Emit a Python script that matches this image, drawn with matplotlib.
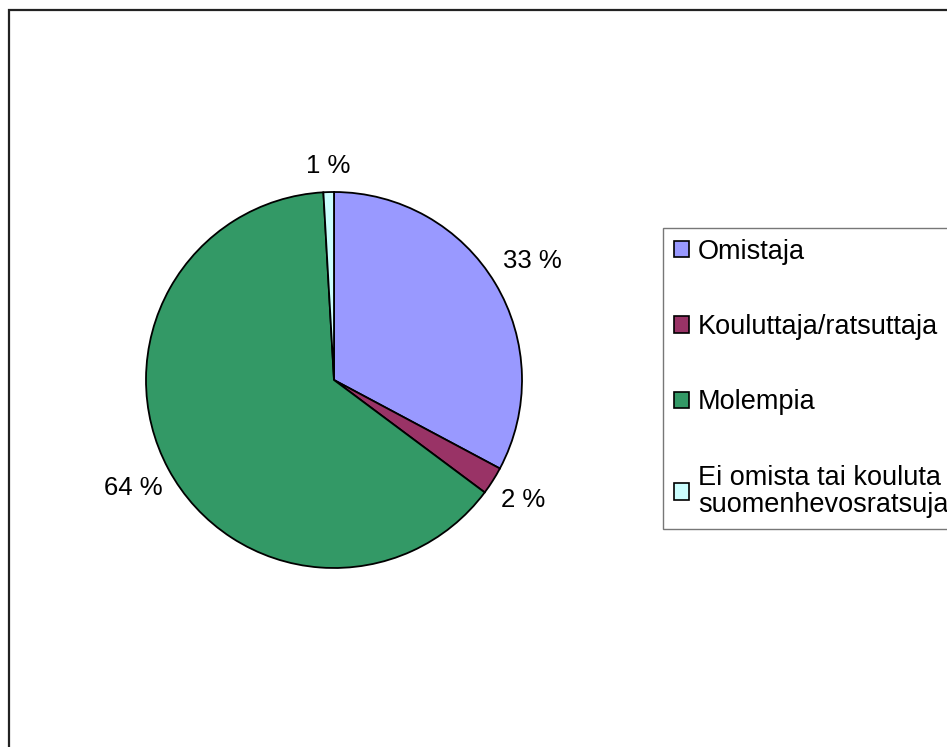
import numpy as np
import matplotlib
matplotlib.use("Agg")
import matplotlib.pyplot as plt
from matplotlib.patches import Patch, Rectangle

plt.rcParams["font.family"] = ["Liberation Sans", "DejaVu Sans"]

# data
categories = ["Omistaja", "Kouluttaja/ratsuttaja", "Molempia",
              "Ei omista tai kouluta\nsuomenhevosratsuja"]
shares = [32.8, 2.4, 63.9, 0.9]
colors = ["#9999FF", "#993366", "#339966", "#CCFFFF"]

W, H = 947, 747
CX, CY, R = 334, H - 380, 188
label_dist = [1.23, 1.19, 1.21, 1.14]  # label offsets, in pie radii

fig = plt.figure(figsize=(W / 100, H / 100), dpi=100)
fig.patch.set_facecolor("white")

# outer chart frame (runs off the right and bottom edges)
fig.patches.append(Rectangle((9 / W, -0.05), 1.1, 1 - 10 / H + 0.05,
                             transform=fig.transFigure, fill=False,
                             edgecolor="#222222", linewidth=1.6))

ax = fig.add_axes([0, 0, 1, 1])
wedges, texts, autotexts = ax.pie(
    shares, colors=colors, startangle=90, counterclock=False,
    center=(CX, CY), radius=R,
    autopct=lambda p: f"{p:.0f} %", pctdistance=1.2,
    wedgeprops=dict(edgecolor="black", linewidth=1.3),
    textprops=dict(fontsize=18.5, color="black"))
for w, t, d in zip(wedges, autotexts, label_dist):
    mid = np.deg2rad((w.theta1 + w.theta2) / 2)
    t.set_position((CX + R * d * np.cos(mid), CY + R * d * np.sin(mid)))
ax.set_xlim(0, W)
ax.set_ylim(0, H)
ax.set_aspect("equal")
ax.axis("off")

handles = [Patch(facecolor=c, edgecolor="black", linewidth=1.2) for c in colors]
leg = fig.legend(handles, categories, loc="upper left",
                 bbox_to_anchor=(663 / W, 1 - 228 / H),
                 fontsize=19.5, frameon=True, fancybox=False,
                 handlelength=0.55, handleheight=0.55, handletextpad=0.35,
                 labelspacing=1.82, borderpad=0.4, borderaxespad=0)
leg.get_texts()[-1].set_linespacing(1.05)
leg.get_frame().set_edgecolor("#555555")
leg.get_frame().set_linewidth(1.0)

fig.savefig("out.png", dpi=100)
